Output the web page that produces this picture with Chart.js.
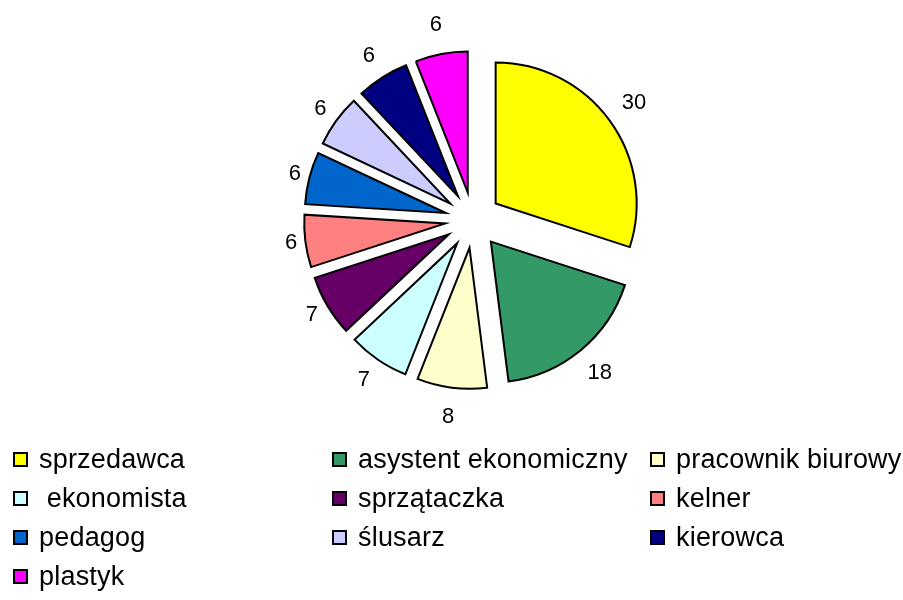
<!DOCTYPE html>
<html>
<head>
<meta charset="utf-8">
<script src="https://cdn.jsdelivr.net/npm/chart.js@4"></script>
<style>
  body { margin: 0; background: #fff; }
  #wrap { position: relative; width: 903px; height: 600px; }
  #legend {
    position: absolute; left: 13px; top: 440px;
    display: grid; grid-template-columns: 319px 318px 250px; grid-auto-rows: 39px;
    font-family: "Liberation Sans", Arial, sans-serif; font-size: 27px; letter-spacing: 0.2px;
    line-height: 1; color: #000;
  }
  .item { display: flex; align-items: center; white-space: pre; }
  .box { width: 15px; height: 15px; box-sizing: border-box; border: 2px solid #000; margin-right: 11px; flex: none; }
</style>
</head>
<body>
<div id="wrap">
  <canvas id="myChart" width="903" height="600"></canvas>
  <div id="legend"></div>
</div>
<script>
let categories = ['sprzedawca', 'asystent ekonomiczny', 'pracownik biurowy', ' ekonomista', 'sprzątaczka', 'kelner', 'pedagog', 'ślusarz', 'kierowca', 'plastyk'];
let values = [30, 18, 8, 7, 7, 6, 6, 6, 6, 6];
let colors = ['#FFFF00', '#339966', '#FFFFCC', '#CCFFFF', '#660066', '#FF8080', '#0066CC', '#CCCCFF', '#000080', '#FF00FF'];

const EXPLODE = 28;

// every slice pulled out from the centre, like the old excel pie
const explodePlugin = {
    id: 'explode',
    beforeDatasetDraw(chart, args) {
        const ctx = chart.ctx;
        args.meta.data.forEach(arc => {
            const mid = (arc.startAngle + arc.endAngle) / 2;
            ctx.save();
            ctx.translate(Math.cos(mid) * EXPLODE, Math.sin(mid) * EXPLODE);
            arc.draw(ctx, chart.chartArea);
            ctx.restore();
        });
        return false;
    }
};

// value labels outside the slices
const labelPlugin = {
    id: 'valueLabels',
    afterDatasetsDraw(chart) {
        const ctx = chart.ctx;
        const meta = chart.getDatasetMeta(0);
        ctx.save();
        ctx.font = '22px "Liberation Sans", Arial, sans-serif';
        ctx.fillStyle = '#000';
        ctx.textAlign = 'center';
        ctx.textBaseline = 'middle';
        meta.data.forEach((arc, i) => {
            const mid = (arc.startAngle + arc.endAngle) / 2;
            const dx = Math.cos(mid), dy = Math.sin(mid);
            const dist = 199 - (dx < 0 ? 16 * dx * dx : 0);
            ctx.fillText(values[i], arc.x + dx * dist, arc.y + dy * dist);
        });
        ctx.restore();
    }
};

const ctx = document.getElementById('myChart');

new Chart(ctx, {
    type: 'pie',
    data: {
        labels: categories,
        datasets: [{
            data: values,
            backgroundColor: colors,
            borderColor: '#000',
            borderWidth: 2,
            borderJoinStyle: 'miter',
            offset: 0,
            hoverOffset: 0
        }]
    },
    options: {
        responsive: false,
        animation: false,
        events: [],
        radius: 141,
        layout: { padding: { left: 43, right: 0, top: 0, bottom: 160 } },
        plugins: {
            legend: { display: false },
            tooltip: { enabled: false }
        }
    },
    plugins: [explodePlugin, labelPlugin]
});

const legend = document.getElementById('legend');
categories.forEach((c, i) => {
    const item = document.createElement('div');
    item.className = 'item';
    const box = document.createElement('span');
    box.className = 'box';
    box.style.background = colors[i];
    item.appendChild(box);
    item.appendChild(document.createTextNode(c));
    legend.appendChild(item);
});
</script>
</body>
</html>
